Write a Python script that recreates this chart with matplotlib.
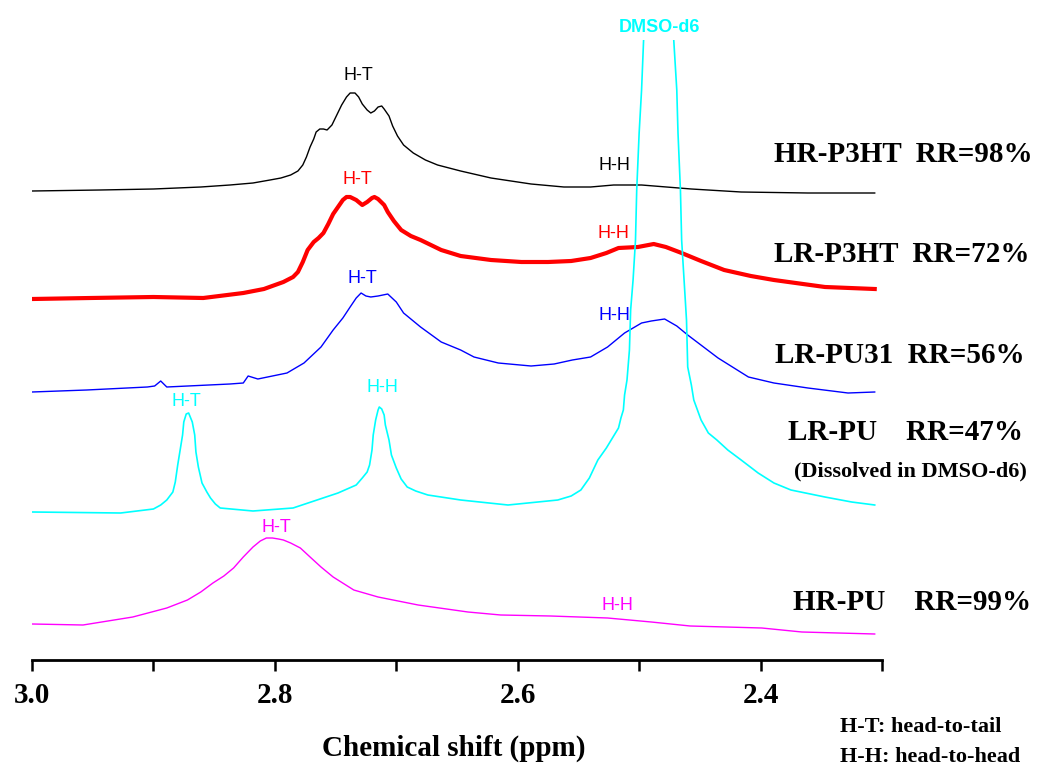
import numpy as np
import matplotlib
matplotlib.use("Agg")
import matplotlib.pyplot as plt
from matplotlib.ticker import MultipleLocator, FormatStrFormatter

# chemical shift (ppm) and intensity above each trace's own baseline
hr_p3ht_ppm = [3.000, 2.944, 2.900, 2.861, 2.837, 2.818, 2.804, 2.795, 2.787, 2.781,
               2.777, 2.774, 2.771, 2.768, 2.766, 2.763, 2.760, 2.757, 2.753, 2.749,
               2.745, 2.741, 2.738, 2.734, 2.731, 2.728, 2.724, 2.721, 2.718, 2.715,
               2.712, 2.710, 2.706, 2.703, 2.699, 2.694, 2.686, 2.676, 2.666, 2.647,
               2.622, 2.589, 2.562, 2.540, 2.521, 2.498, 2.457, 2.416, 2.361, 2.306]
hr_p3ht_int = [0, 1, 2, 4, 6, 8, 11, 13, 16, 20,
               26, 34, 44, 52, 59, 62, 62, 61, 66, 76,
               86, 94, 98, 98, 94, 87, 81, 78, 80, 84,
               85, 82, 75, 65, 55, 46, 38, 31, 26, 20,
               13, 7, 4, 4, 6, 6, 2, -1, -2, -2]

lr_p3ht_ppm = [3.000, 2.952, 2.900, 2.859, 2.826, 2.809, 2.793, 2.785, 2.781, 2.777,
               2.773, 2.768, 2.764, 2.760, 2.756, 2.752, 2.748, 2.744, 2.741, 2.738,
               2.733, 2.728, 2.724, 2.720, 2.718, 2.715, 2.710, 2.707, 2.702, 2.696,
               2.688, 2.680, 2.663, 2.647, 2.622, 2.597, 2.575, 2.556, 2.540, 2.527,
               2.517, 2.501, 2.488, 2.478, 2.465, 2.449, 2.430, 2.408, 2.389, 2.347,
               2.306]
lr_p3ht_int = [0, 1, 2, 1, 6, 10, 17, 22, 27, 37,
               49, 57, 61, 66, 75, 85, 92, 99, 102, 102,
               99, 94, 97, 101, 102, 100, 94, 87, 78, 69,
               63, 59, 49, 43, 39, 37, 37, 38, 41, 46,
               51, 52, 55, 52, 46, 38, 29, 23, 19, 12,
               10]

lr_pu31_ppm = [3.000, 2.955, 2.905, 2.899, 2.894, 2.889, 2.837, 2.826, 2.822, 2.814,
               2.790, 2.776, 2.769, 2.762, 2.752, 2.744, 2.738, 2.733, 2.729, 2.725,
               2.721, 2.715, 2.707, 2.700, 2.694, 2.680, 2.663, 2.647, 2.636, 2.616,
               2.589, 2.570, 2.555, 2.540, 2.526, 2.512, 2.498, 2.490, 2.479, 2.469,
               2.460, 2.435, 2.410, 2.389, 2.361, 2.328, 2.306]
lr_pu31_int = [0, 2, 5, 6, 11, 5, 8, 9, 16, 13,
               19, 29, 37, 45, 62, 74, 85, 94, 99, 96,
               95, 96, 98, 90, 79, 65, 50, 42, 35, 29,
               26, 28, 32, 35, 45, 59, 69, 71, 73, 66,
               57, 34, 15, 9, 4, -1, 0]

lr_pu_ppm = [3.000, 2.927, 2.900, 2.894, 2.889, 2.884, 2.882, 2.880, 2.878, 2.876,
             2.875, 2.873, 2.871, 2.870, 2.868, 2.866, 2.865, 2.863, 2.860, 2.856,
             2.853, 2.849, 2.845, 2.818, 2.785, 2.748, 2.733, 2.728, 2.724, 2.722,
             2.720, 2.719, 2.717, 2.715, 2.714, 2.712, 2.710, 2.709, 2.706, 2.704,
             2.700, 2.696, 2.691, 2.684, 2.674, 2.647, 2.608, 2.567, 2.556, 2.548,
             2.541, 2.534, 2.527, 2.523, 2.517, 2.515, 2.513, 2.512, 2.510, 2.508,
             2.507, 2.505, 2.503, 2.502, 2.500, 2.498, 2.496, 2.488, 2.484, 2.479,
             2.472, 2.469, 2.468, 2.466, 2.465, 2.463, 2.461, 2.460, 2.457, 2.455,
             2.449, 2.443, 2.436, 2.427, 2.416, 2.402, 2.389, 2.375, 2.347, 2.325,
             2.306]
lr_pu_int = [0, -1, 3, 7, 12, 20, 30, 47, 62, 77,
             90, 98, 99, 96, 90, 77, 60, 45, 29, 20,
             14, 8, 4, 1, 4, 19, 27, 34, 40, 47,
             62, 77, 92, 102, 105, 103, 97, 87, 72, 57,
             44, 33, 25, 21, 17, 12, 7, 12, 16, 22,
             34, 52, 64, 72, 84, 94, 102, 117, 132, 162,
             202, 232, 272, 322, 379, 422, 482, 912, 1312, 912,
             482, 422, 379, 322, 272, 232, 192, 145, 127, 112,
             92, 79, 72, 62, 52, 39, 29, 22, 15, 10,
             7]

hr_pu_ppm = [3.000, 2.958, 2.917, 2.889, 2.872, 2.861, 2.851, 2.842, 2.834, 2.826,
             2.818, 2.812, 2.807, 2.802, 2.797, 2.793, 2.787, 2.779, 2.771, 2.762,
             2.752, 2.735, 2.715, 2.682, 2.641, 2.614, 2.573, 2.526, 2.490, 2.458,
             2.399, 2.366, 2.306]
hr_pu_int = [0, -1, 7, 16, 24, 32, 41, 48, 56, 67,
             77, 83, 86, 86, 85, 84, 81, 76, 67, 57,
             47, 34, 27, 19, 12, 9, 8, 6, 2, -2,
             -4, -8, -10]

baselines = [469, 361, 268, 148, 36]
colors = ["black", "#ff0000", "#0000ff", "#00ffff", "#ff00ff"]
widths = [1.0, 3.0, 1.0, 1.2, 1.0]
traces = [(hr_p3ht_ppm, hr_p3ht_int), (lr_p3ht_ppm, lr_p3ht_int),
          (lr_pu31_ppm, lr_pu31_int), (lr_pu_ppm, lr_pu_int), (hr_pu_ppm, hr_pu_int)]

W, H = 1038, 769
fig = plt.figure(figsize=(W / 100, H / 100), dpi=100)
ax = fig.add_axes([32 / W, 1 - 660 / H, 850 / W, 620 / H])

for (ppm, inten), base, c, lw in zip(traces, baselines, colors, widths):
    ax.plot(ppm, np.array(inten) + base, color=c, lw=lw, solid_joinstyle="round")

ax.set_xlim(3.0, 2.3)
ax.set_ylim(0, 620)
for s in ["top", "left", "right"]:
    ax.spines[s].set_visible(False)
ax.spines["bottom"].set_linewidth(2)
ax.set_yticks([])
ax.xaxis.set_major_locator(MultipleLocator(0.2))
ax.xaxis.set_minor_locator(MultipleLocator(0.1))
ax.xaxis.set_major_formatter(FormatStrFormatter("%.1f"))
ax.tick_params(axis="x", which="both", direction="out", length=8, width=1.8, pad=8)
for lab in ax.get_xticklabels():
    lab.set_fontfamily("Liberation Serif")
    lab.set_fontweight("bold")
    lab.set_fontsize(21)

serif = dict(family="Liberation Serif", weight="bold")
sans = dict(family="Liberation Sans", fontsize=13, ha="center", va="center")


def ftext(x, y, s, **kw):
    fig.text(x / W, 1 - y / H, s, **kw)


# peak assignments, placed in figure pixels
peak_labels = [
    (358, 75, "H-T", "black"), (614, 166, "H-H", "black"),
    (357, 179, "H-T", "#ff0000"), (613, 233, "H-H", "#ff0000"),
    (362, 279, "H-T", "#0000ff"), (614, 315, "H-H", "#0000ff"),
    (186, 401, "H-T", "#00ffff"), (382, 387, "H-H", "#00ffff"),
    (276, 527, "H-T", "#ff00ff"), (617, 605, "H-H", "#ff00ff"),
]
for x, y, s, c in peak_labels:
    ftext(x, y, s, color=c, **sans)
ftext(659, 27, "DMSO-d6", color="#00ffff", family="Liberation Sans",
      fontsize=13, weight="bold", ha="center", va="center")

ftext(903, 155, "HR-P3HT  RR=98%", fontsize=21, ha="center", va="center", **serif)
ftext(902, 255, "LR-P3HT  RR=72%", fontsize=21, ha="center", va="center", **serif)
ftext(900, 355, "LR-PU31  RR=56%", fontsize=21, ha="center", va="center", **serif)
ftext(905, 433, "LR-PU    RR=47%", fontsize=21, ha="center", va="center", **serif)
ftext(910, 471, "(Dissolved in DMSO-d6)", fontsize=16, ha="center", va="center", **serif)
ftext(912, 602, "HR-PU    RR=99%", fontsize=21, ha="center", va="center", **serif)

ftext(454, 748, "Chemical shift (ppm)", fontsize=21, ha="center", va="center", **serif)
ftext(840, 727, "H-T: head-to-tail", fontsize=16, ha="left", va="center", **serif)
ftext(840, 757, "H-H: head-to-head", fontsize=16, ha="left", va="center", **serif)

fig.savefig("out.png", dpi=100)
